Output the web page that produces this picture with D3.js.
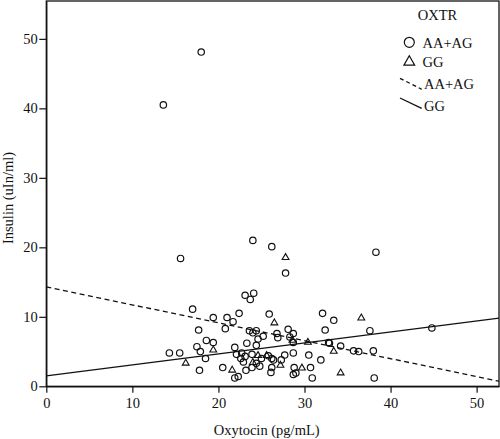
<!DOCTYPE html>
<html>
<head>
<meta charset="utf-8">
<script src="https://cdn.jsdelivr.net/npm/d3@7"></script>
<style>
  html, body { margin: 0; padding: 0; background: #fff; }
  svg { display: block; }
  text { font-family: "Liberation Serif", "Times New Roman", serif; fill: #111; }
</style>
</head>
<body>
<svg id="chart" width="500" height="439"></svg>
<script>
// ---- data ----
const xTicks = [0, 10, 20, 30, 40, 50];
const yTicks = [0, 10, 20, 30, 40, 50];

// AA+AG genotype (circles): [oxytocin, insulin]
const aaagX = [13.6, 18.0, 15.6, 24.0, 26.2, 27.8, 38.3, 17.0, 23.1, 24.1, 23.7, 19.4, 21.0, 21.7, 22.4, 20.8, 23.6, 17.7, 18.6, 19.4,
  23.3, 17.5, 17.9, 21.9, 14.3, 15.5, 18.5, 22.1, 22.6, 17.8, 20.5, 23.2, 21.9, 22.3, 26.1, 28.7, 30.9, 38.1, 25.9, 32.1,
  33.4, 32.4, 37.6, 24.0, 24.4, 24.6, 24.4, 25.2, 26.8, 26.9, 28.1, 28.7, 28.3, 28.7, 32.8, 32.9, 34.2, 35.7, 36.3, 38.0,
  22.7, 23.1, 23.9, 25.0, 26.2, 26.4, 27.3, 28.7, 30.5, 31.9, 23.9, 24.8, 26.2, 28.8, 30.7, 44.8, 22.9, 25.8, 27.7, 24.4, 29.0];
const aaagY = [40.5, 48.1, 18.4, 21.0, 20.1, 16.3, 19.3, 11.1, 13.1, 13.4, 12.5, 9.9, 9.9, 9.3, 10.5, 8.3, 8.0, 8.1, 6.6, 6.3,
  6.2, 5.7, 5.0, 5.6, 4.8, 4.8, 4.0, 4.6, 4.0, 2.3, 2.7, 2.3, 1.2, 1.4, 2.0, 1.7, 1.2, 1.2, 10.4, 10.5,
  9.5, 8.1, 8.0, 7.7, 8.0, 6.8, 5.9, 7.2, 7.6, 7.0, 8.2, 7.6, 7.1, 6.3, 6.3, 6.2, 5.8, 5.1, 5.0, 5.1,
  4.8, 4.3, 4.6, 4.0, 4.0, 3.8, 3.8, 4.8, 4.5, 3.8, 2.7, 2.9, 2.7, 2.7, 2.7, 8.4, 3.5, 4.4, 4.5, 3.3, 1.9];

// GG genotype (triangles)
const ggX = [27.8, 19.4, 16.2, 21.6, 26.5, 36.6, 28.6, 30.4, 33.4, 24.6, 25.6, 24.0, 27.2, 29.7, 34.2];
const ggY = [18.6, 5.3, 3.4, 2.4, 9.2, 9.9, 6.7, 6.4, 5.1, 4.5, 4.5, 3.5, 3.1, 2.7, 2.0];

// fitted regression lines: [intercept, slope]
const fitAAAG = [14.3, -0.258];
const fitGG = [1.5, 0.158];

const legendTitle = "OXTR";
const legendLabels = ["AA+AG", "GG", "AA+AG", "GG"];

// ---- layout ----
const svg = d3.select("#chart");
const mLeft = 46.3, mRight = 499, mTop = 1, mBottom = 386.3;
const xMax = 52.6, yMax = 55.45;

const x = d3.scaleLinear().domain([0, xMax]).range([mLeft, mRight]);
const y = d3.scaleLinear().domain([0, yMax]).range([mBottom, mTop]);

// frame
svg.append("rect")
  .attr("x", mLeft).attr("y", mTop)
  .attr("width", mRight - mLeft).attr("height", mBottom - mTop)
  .attr("fill", "none").attr("stroke", "#111").attr("stroke-width", 1.3);

// axes
const xAxis = svg.append("g")
  .attr("transform", `translate(0,${mBottom})`)
  .call(d3.axisBottom(x).tickValues(xTicks).tickSize(6.5).tickSizeOuter(0).tickPadding(4.5));
const yAxis = svg.append("g")
  .attr("transform", `translate(${mLeft},0)`)
  .call(d3.axisLeft(y).tickValues(yTicks).tickSize(7).tickSizeOuter(0).tickPadding(1.5));
[xAxis, yAxis].forEach(g => {
  g.select(".domain").attr("stroke", "#111").attr("stroke-width", 1.3);
  g.selectAll(".tick line").attr("stroke", "#111").attr("stroke-width", 1.2);
  g.selectAll(".tick text")
    .attr("font-family", "Liberation Serif, Times New Roman, serif")
    .attr("font-size", 14.5).attr("fill", "#111");
});

// axis titles
svg.append("text")
  .attr("x", (mLeft + mRight) / 2 - 6).attr("y", 435)
  .attr("text-anchor", "middle").attr("font-size", 14.5)
  .text("Oxytocin (pg/mL)");
svg.append("text")
  .attr("transform", "translate(12.5,198) rotate(-90)")
  .attr("text-anchor", "middle").attr("font-size", 14.5)
  .text("Insulin (uIn/ml)");

// regression lines
const lineGen = d3.line().x(d => x(d[0])).y(d => y(d[1]));
const plotG = svg.append("g");
function fitPts(f) { return [[0, f[0]], [xMax, f[0] + f[1] * xMax]]; }
plotG.append("path").datum(fitPts(fitAAAG)).attr("d", lineGen)
  .attr("fill", "none").attr("stroke", "#111").attr("stroke-width", 1.3)
  .attr("stroke-dasharray", "5,3.5");
plotG.append("path").datum(fitPts(fitGG)).attr("d", lineGen)
  .attr("fill", "none").attr("stroke", "#111").attr("stroke-width", 1.3);

// points
const circ = aaagX.map((v, i) => [v, aaagY[i]]);
plotG.selectAll("circle.pt").data(circ).enter().append("circle")
  .attr("class", "pt")
  .attr("cx", d => x(d[0])).attr("cy", d => y(d[1])).attr("r", 3.2)
  .attr("fill", "none").attr("stroke", "#111").attr("stroke-width", 1.2);

const tri = ggX.map((v, i) => [v, ggY[i]]);
const triSym = d3.symbol().type(d3.symbolTriangle).size(20);
plotG.selectAll("path.tri").data(tri).enter().append("path")
  .attr("class", "tri")
  .attr("transform", d => `translate(${x(d[0])},${y(d[1]) + 0.5})`)
  .attr("d", triSym)
  .attr("fill", "none").attr("stroke", "#111").attr("stroke-width", 1.1);

// legend
const lg = svg.append("g");
lg.append("text").attr("x", 437.5).attr("y", 20).attr("text-anchor", "middle")
  .attr("font-size", 14.5).text(legendTitle);
lg.append("circle").attr("cx", 409.3).attr("cy", 42.3).attr("r", 5)
  .attr("fill", "none").attr("stroke", "#111").attr("stroke-width", 1.2);
lg.append("path").attr("transform", "translate(409.3,62)")
  .attr("d", d3.symbol().type(d3.symbolTriangle).size(50))
  .attr("fill", "none").attr("stroke", "#111").attr("stroke-width", 1.2);
lg.append("path").attr("d", "M400,78.3L421.7,89.3")
  .attr("stroke", "#111").attr("stroke-width", 1.3).attr("stroke-dasharray", "4,3");
lg.append("path").attr("d", "M400,98L421.7,108.3")
  .attr("stroke", "#111").attr("stroke-width", 1.3);
const lgY = [47.5, 67, 89, 111];
lgY.forEach((yy, i) => {
  lg.append("text").attr("x", i < 2 ? 422.5 : 424).attr("y", yy)
    .attr("font-size", 14.5).text(legendLabels[i]);
});
</script>
</body>
</html>
